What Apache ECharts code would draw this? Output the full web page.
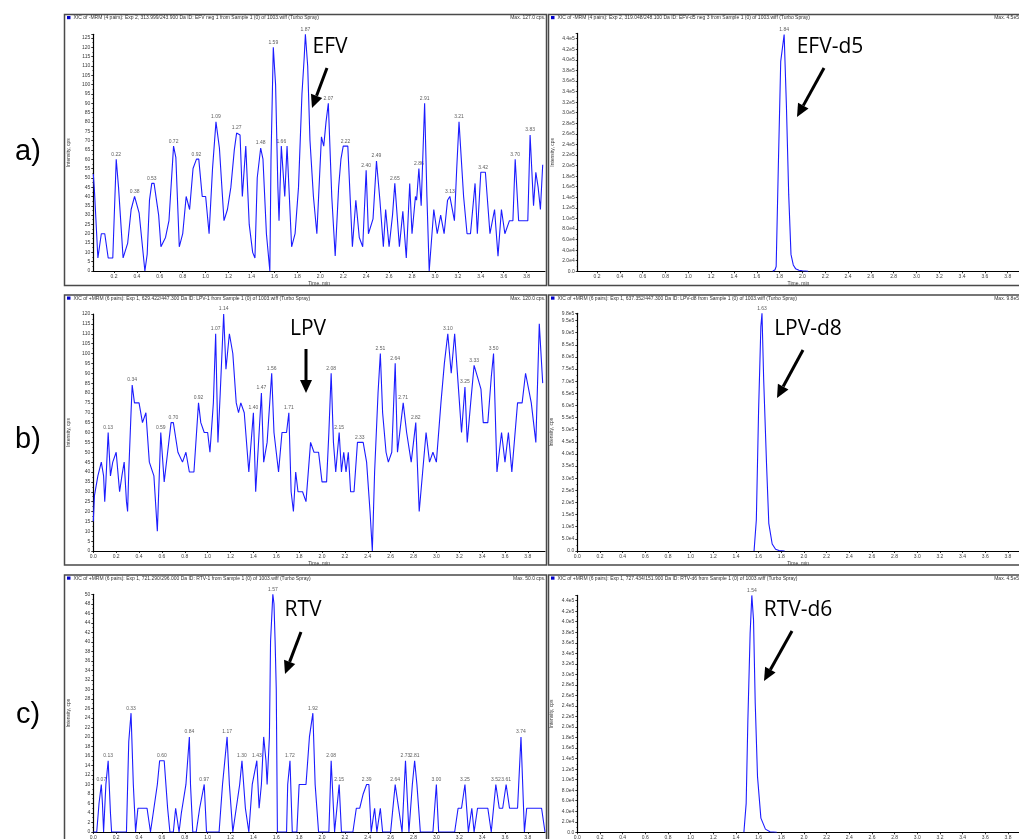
<!DOCTYPE html>
<html>
<head>
<meta charset="utf-8">
<script src="https://cdn.jsdelivr.net/npm/echarts@6/dist/echarts.min.js"></script>
<style>
  html, body { margin: 0; padding: 0; background: #fff; }
  #chart { width: 1019px; height: 839px; }
</style>
</head>
<body>
<div id="chart"></div>
<script>
// XIC traces: [time (min), intensity (cps)]
const efvTrace = [[0.02,52],[0.03,43],[0.06,7],[0.09,20],[0.12,20],[0.15,7],[0.19,7],[0.22,60],[0.24,45],[0.28,7],[0.32,15],[0.35,33],[0.38,40],[0.42,31],[0.47,0],[0.49,9],[0.51,38],[0.53,47],[0.55,47],[0.59,30],[0.61,13],[0.65,18],[0.68,27],[0.72,67],[0.74,61],[0.77,13],[0.80,20],[0.83,40],[0.86,33],[0.89,55],[0.92,60],[0.94,60],[0.97,40],[1.00,40],[1.03,20],[1.06,55],[1.09,80],[1.12,66],[1.16,27],[1.19,33],[1.22,45],[1.25,65],[1.27,74],[1.30,73],[1.32,40],[1.35,67],[1.38,25],[1.41,10],[1.43,7],[1.45,50],[1.48,66],[1.50,60],[1.53,20],[1.56,0],[1.57,60],[1.59,120],[1.61,100],[1.63,45],[1.64,27],[1.66,67],[1.69,40],[1.71,67],[1.75,13],[1.78,20],[1.81,45],[1.84,95],[1.86,115],[1.87,127],[1.89,110],[1.91,70],[1.94,40],[1.97,20],[2.01,72],[2.03,67],[2.05,80],[2.07,90],[2.10,40],[2.13,8],[2.16,45],[2.18,60],[2.20,67],[2.22,67],[2.24,67],[2.28,13],[2.31,38],[2.34,18],[2.37,13],[2.40,54],[2.42,20],[2.46,28],[2.49,59],[2.52,38],[2.55,13],[2.57,33],[2.60,13],[2.63,30],[2.65,47],[2.69,13],[2.72,32],[2.75,7],[2.78,47],[2.80,20],[2.83,40],[2.84,38],[2.86,55],[2.88,35],[2.91,90],[2.93,40],[2.95,0],[2.99,33],[3.02,20],[3.05,30],[3.08,20],[3.11,38],[3.13,40],[3.17,27],[3.19,55],[3.21,80],[3.25,40],[3.28,20],[3.31,20],[3.35,47],[3.37,20],[3.40,53],[3.42,53],[3.44,53],[3.48,20],[3.52,33],[3.55,8],[3.58,33],[3.61,20],[3.65,27],[3.68,27],[3.70,60],[3.73,27],[3.78,27],[3.81,27],[3.83,73],[3.86,35],[3.88,53],[3.90,45],[3.92,33],[3.94,57]];
const efvPeaks = [0.22,0.38,0.53,0.72,0.92,1.09,1.27,1.48,1.59,1.66,1.87,2.07,2.22,2.40,2.49,2.65,2.86,2.91,3.13,3.21,3.42,3.70,3.83];

const lpvTrace = [[0.00,15],[0.01,28],[0.04,38],[0.07,45],[0.09,38],[0.10,25],[0.11,35],[0.13,60],[0.15,38],[0.17,45],[0.20,50],[0.23,30],[0.25,38],[0.27,45],[0.29,25],[0.30,20],[0.31,40],[0.33,70],[0.34,84],[0.36,75],[0.40,75],[0.43,65],[0.46,70],[0.49,45],[0.53,38],[0.56,10],[0.59,60],[0.62,35],[0.65,50],[0.68,65],[0.70,65],[0.74,50],[0.78,45],[0.81,50],[0.84,40],[0.88,40],[0.92,75],[0.94,65],[0.97,60],[1.00,60],[1.02,50],[1.05,75],[1.07,110],[1.09,55],[1.11,80],[1.14,120],[1.16,92],[1.19,110],[1.22,100],[1.25,75],[1.27,70],[1.29,75],[1.32,70],[1.36,40],[1.40,70],[1.42,30],[1.47,80],[1.49,45],[1.52,55],[1.56,90],[1.58,60],[1.62,40],[1.65,60],[1.69,60],[1.71,70],[1.73,30],[1.75,20],[1.77,40],[1.79,30],[1.83,30],[1.86,25],[1.90,55],[1.93,50],[1.97,50],[2.00,35],[2.04,35],[2.06,60],[2.08,90],[2.10,55],[2.12,40],[2.15,60],[2.17,40],[2.19,50],[2.21,40],[2.23,50],[2.25,30],[2.28,30],[2.31,55],[2.33,55],[2.36,55],[2.39,45],[2.42,20],[2.44,0],[2.46,40],[2.49,80],[2.51,100],[2.53,70],[2.56,50],[2.58,45],[2.61,50],[2.64,95],[2.66,50],[2.69,65],[2.71,75],[2.74,60],[2.78,45],[2.80,55],[2.82,65],[2.85,20],[2.88,40],[2.91,60],[2.94,45],[2.97,50],[3.00,45],[3.04,75],[3.07,95],[3.10,110],[3.13,90],[3.16,110],[3.19,85],[3.22,60],[3.25,83],[3.27,55],[3.30,75],[3.33,94],[3.36,88],[3.39,82],[3.41,65],[3.45,65],[3.48,88],[3.50,100],[3.53,40],[3.57,60],[3.60,45],[3.63,60],[3.66,40],[3.71,75],[3.75,75],[3.78,90],[3.83,75],[3.87,55],[3.90,115],[3.93,85]];
const lpvPeaks = [0.13,0.34,0.59,0.70,0.92,1.07,1.14,1.40,1.47,1.56,1.71,2.08,2.15,2.33,2.51,2.64,2.71,2.82,3.10,3.25,3.33,3.50];

const rtvTrace = [[0.00,0],[0.03,0],[0.05,6],[0.07,10],[0.08,6],[0.09,0],[0.11,10],[0.13,15],[0.15,4],[0.16,0],[0.29,0],[0.31,19],[0.33,25],[0.35,10],[0.37,0],[0.39,5],[0.47,5],[0.50,0],[0.53,5],[0.56,10],[0.58,15],[0.60,15],[0.62,15],[0.65,5],[0.67,0],[0.70,0],[0.72,5],[0.75,0],[0.77,4],[0.81,10],[0.84,20],[0.85,10],[0.87,0],[0.90,0],[0.93,5],[0.97,10],[0.99,0],[1.10,0],[1.13,10],[1.15,15],[1.17,20],[1.19,10],[1.22,0],[1.25,5],[1.28,10],[1.30,15],[1.33,5],[1.36,0],[1.39,10],[1.43,15],[1.45,5],[1.47,10],[1.49,20],[1.51,15],[1.52,10],[1.54,20],[1.55,40],[1.57,50],[1.58,48],[1.59,40],[1.60,30],[1.61,0],[1.69,0],[1.70,10],[1.72,15],[1.74,0],[1.78,0],[1.80,10],[1.86,10],[1.89,20],[1.92,25],[1.94,10],[1.97,0],[2.06,0],[2.08,15],[2.10,5],[2.11,0],[2.13,5],[2.15,10],[2.17,0],[2.27,0],[2.30,5],[2.33,5],[2.36,8],[2.39,10],[2.41,10],[2.43,0],[2.46,5],[2.48,0],[2.51,5],[2.53,0],[2.60,0],[2.64,10],[2.67,5],[2.70,0],[2.73,15],[2.74,15],[2.76,0],[2.79,10],[2.81,15],[2.83,10],[2.86,0],[2.97,0],[3.00,10],[3.02,0],[3.16,0],[3.19,5],[3.22,5],[3.25,10],[3.28,0],[3.31,5],[3.33,0],[3.36,5],[3.45,5],[3.48,0],[3.52,10],[3.55,5],[3.58,5],[3.61,10],[3.64,5],[3.71,5],[3.74,20],[3.77,0],[3.79,5],[3.92,5],[3.95,0]];
const rtvPeaks = [0.07,0.13,0.33,0.60,0.84,0.97,1.17,1.30,1.43,1.57,1.72,1.92,2.08,2.15,2.39,2.64,2.73,2.81,3.00,3.25,3.52,3.61,3.74];

const efvD5Trace = [[1.74,0],[1.76,3000],[1.77,9000],[1.79,208000],[1.81,397000],[1.84,448000],[1.86,312000],[1.88,145000],[1.90,32000],[1.92,12000],[1.94,5000],[1.97,2000],[2.00,1000],[2.05,0]];
const efvD5Peaks = [1.84];
const lpvD8Trace = [[1.56,0],[1.58,128000],[1.60,580000],[1.62,925000],[1.63,980000],[1.645,705000],[1.67,360000],[1.69,114000],[1.72,29000],[1.75,7000],[1.78,2000],[1.83,0]];
const lpvD8Peaks = [1.63];
const rtvD6Trace = [[1.47,0],[1.49,55000],[1.505,213000],[1.525,378000],[1.54,450000],[1.555,403000],[1.57,245000],[1.59,106000],[1.62,27000],[1.66,6000],[1.70,1000],[1.76,0]];
const rtvD6Peaks = [1.54];

// Axis tick values
const timeTicks = [0.0,0.2,0.4,0.6,0.8,1.0,1.2,1.4,1.6,1.8,2.0,2.2,2.4,2.6,2.8,3.0,3.2,3.4,3.6,3.8];

// Panel header texts
const headers = [
  ['XIC of -MRM (4 pairs): Exp 2, 313.999/243.900 Da ID: EFV neg 1 from Sample 1 (0) of 1003.wiff (Turbo Spray)', 'Max. 127.0 cps.'],
  ['XIC of -MRM (4 pairs): Exp 2, 319.048/248.100 Da ID: EFV-d5 neg 3 from Sample 1 (0) of 1003.wiff (Turbo Spray)', 'Max. 4.5e5 cps.'],
  ['XIC of +MRM (6 pairs): Exp 1, 629.422/447.300 Da ID: LPV-1 from Sample 1 (0) of 1003.wiff (Turbo Spray)', 'Max. 120.0 cps.'],
  ['XIC of +MRM (6 pairs): Exp 1, 637.352/447.300 Da ID: LPV-d8 from Sample 1 (0) of 1003.wiff (Turbo Spray)', 'Max. 9.8e5 cps.'],
  ['XIC of +MRM (6 pairs): Exp 1, 721.290/296.000 Da ID: RTV-1 from Sample 1 (0) of 1003.wiff (Turbo Spray)', 'Max. 50.0 cps.'],
  ['XIC of +MRM (6 pairs): Exp 1, 727.434/151.900 Da ID: RTV-d6 from Sample 1 (0) of 1003.wiff (Turbo Spray)', 'Max. 4.5e5 cps.']
];
const rowLabels = ['a)', 'b)', 'c)'];
const compoundNames = ['EFV', 'EFV-d5', 'LPV', 'LPV-d8', 'RTV', 'RTV-d6'];

// Layout of the six plot areas and their frames
const panels = [
  { trace: efvTrace,   peaks: efvPeaks,   grid: {left: 93.3,  top: 34.3,  width: 451.7, height: 236.7}, xMin: 0.02, xMax: 3.96, yMax: 127,    yStep: 5,     sci: false, showMax: false },
  { trace: efvD5Trace, peaks: efvD5Peaks, grid: {left: 577.7, top: 33.4,  width: 441.4, height: 237.9}, xMin: 0.03, xMax: 3.9,  yMax: 450000, yStep: 20000, sci: true,  showMax: false },
  { trace: lpvTrace,   peaks: lpvPeaks,   grid: {left: 93.3,  top: 314,   width: 451.7, height: 237},   xMin: 0,    xMax: 3.95, yMax: 120,    yStep: 5,     sci: false, showMax: true },
  { trace: lpvD8Trace, peaks: lpvD8Peaks, grid: {left: 577.3, top: 313.3, width: 441.9, height: 237.7}, xMin: 0,    xMax: 3.9,  yMax: 980000, yStep: 50000, sci: true,  showMax: true },
  { trace: rtvTrace,   peaks: rtvPeaks,   grid: {left: 93.3,  top: 594.3, width: 451.7, height: 237.7}, xMin: 0,    xMax: 3.95, yMax: 50,     yStep: 2,     sci: false, showMax: true },
  { trace: rtvD6Trace, peaks: rtvD6Peaks, grid: {left: 577.3, top: 595.4, width: 442,   height: 236.9}, xMin: 0,    xMax: 3.9,  yMax: 450000, yStep: 20000, sci: true,  showMax: false }
];
const frames = [
  {x: 64.5, y: 14.5, w: 482, h: 271}, {x: 548.5, y: 14.5, w: 480, h: 271},
  {x: 64.5, y: 295, w: 482, h: 270},  {x: 548.5, y: 295, w: 480, h: 270},
  {x: 64.5, y: 575, w: 482, h: 275},  {x: 548.5, y: 575, w: 480, h: 275}
];
const annotations = [
  {text: {x: 330, y: 47}, arrow: [327, 68, 312, 108]},
  {text: {x: 830, y: 47}, arrow: [824, 68, 797, 117]},
  {text: {x: 308, y: 329}, arrow: [306, 349, 306, 393]},
  {text: {x: 808, y: 329}, arrow: [803, 350, 777, 398]},
  {text: {x: 303, y: 610}, arrow: [301, 632, 285, 674]},
  {text: {x: 798, y: 610}, arrow: [792, 631, 764, 681]}
];
const rowLabelY = [152, 440, 715];

const TRACE_BLUE = '#1c1cff';
const TICK_TEXT = '#3a3a3a';

function sciLabel(v) {
  if (v === 0) return '0.0';
  return v.toExponential(1).replace('e+', 'e');
}

function arrowShapes(x1, y1, x2, y2) {
  const a = Math.atan2(y2 - y1, x2 - x1), L = 13, W = 6;
  const bx = x2 - L * Math.cos(a), by = y2 - L * Math.sin(a);
  const px = -Math.sin(a) * W, py = Math.cos(a) * W;
  return [
    {type: 'line', silent: true, shape: {x1, y1, x2: bx, y2: by}, style: {stroke: '#000', lineWidth: 3}},
    {type: 'polygon', silent: true, shape: {points: [[x2, y2], [bx + px, by + py], [bx - px, by - py]]}, style: {fill: '#000'}}
  ];
}

const grids = [], xAxes = [], yAxes = [], series = [], graphics = [];

panels.forEach((p, i) => {
  grids.push(Object.assign({outerBoundsMode: 'none', containLabel: false}, p.grid));
  const ticks = timeTicks.filter(t => t >= p.xMin - 1e-9 && t <= p.xMax + 1e-9);
  xAxes.push({
    type: 'value', gridIndex: i, min: p.xMin, max: p.xMax,
    axisLine: {onZero: false, lineStyle: {color: '#000', width: 1}},
    axisTick: {show: true, length: 2, customValues: ticks, lineStyle: {color: '#000', width: 0.8}},
    axisLabel: {customValues: ticks, formatter: v => v.toFixed(1), fontSize: 5, color: TICK_TEXT, margin: 3, fontFamily: 'Liberation Sans'},
    splitLine: {show: false},
    name: 'Time, min', nameLocation: 'middle', nameGap: 10,
    nameTextStyle: {fontSize: 5, color: TICK_TEXT, fontFamily: 'Liberation Sans'}
  });
  yAxes.push({
    type: 'value', gridIndex: i, min: 0, max: p.yMax, interval: p.yStep,
    axisLine: {show: true, lineStyle: {color: '#000', width: 1.2}},
    axisTick: {show: true, length: 2, lineStyle: {color: '#000', width: 0.8}},
    minorTick: {show: true, splitNumber: 2, length: 1, lineStyle: {color: '#000', width: 0.6}},
    axisLabel: {
      fontSize: 5, color: TICK_TEXT, margin: 3, fontFamily: 'Liberation Sans',
      showMaxLabel: p.showMax,
      formatter: p.sci ? sciLabel : (v => String(Math.round(v)))
    },
    splitLine: {show: false},
    name: 'Intensity, cps', nameLocation: 'middle', nameRotate: 90, nameGap: p.sci ? 23 : 22,
    nameTextStyle: {fontSize: 5, color: TICK_TEXT, fontFamily: 'Liberation Sans'}
  });
  series.push({
    type: 'line', xAxisIndex: i, yAxisIndex: i, data: p.trace,
    showSymbol: false, symbol: 'none', animation: false, clip: true,
    lineStyle: {color: TRACE_BLUE, width: 1.1}
  });
  // retention-time labels sit on the trace points of each picked peak
  const peakPoints = p.peaks
    .map(t => p.trace.find(pt => Math.abs(pt[0] - t) < 1e-9))
    .filter(Boolean);
  series.push({
    type: 'scatter', xAxisIndex: i, yAxisIndex: i, data: peakPoints,
    symbol: 'circle', symbolSize: 1, animation: false, silent: true,
    itemStyle: {color: 'rgba(0,0,0,0)'},
    label: {
      show: true, position: 'top', distance: 2, fontSize: 5, color: '#333',
      fontFamily: 'Liberation Sans',
      formatter: d => d.value[0].toFixed(2)
    }
  });

  // panel frame, header and annotation
  const f = frames[i];
  graphics.push({type: 'rect', silent: true, shape: {x: f.x, y: f.y, width: f.w, height: f.h},
    style: {fill: 'none', stroke: '#4a4a4a', lineWidth: 1.5}});
  graphics.push({type: 'rect', silent: true, shape: {x: f.x + 2.5, y: f.y + 1.5, width: 3.5, height: 3.2},
    style: {fill: '#0000cc'}});
  graphics.push({type: 'text', silent: true, x: f.x + 9, y: f.y + 3.2,
    style: {text: headers[i][0], fontSize: 5, fill: '#333', fontFamily: 'Liberation Sans', textVerticalAlign: 'middle'}});
  graphics.push({type: 'text', silent: true, x: f.x + 481, y: f.y + 3.2,
    style: {text: headers[i][1], fontSize: 5, fill: '#333', fontFamily: 'Liberation Sans', textAlign: 'right', textVerticalAlign: 'middle'}});
  const an = annotations[i];
  graphics.push({type: 'text', silent: true, x: an.text.x, y: an.text.y,
    style: {text: compoundNames[i], fontSize: 21, fill: '#000', fontFamily: 'Open Sans', textAlign: 'center', textVerticalAlign: 'middle'}});
  graphics.push(...arrowShapes(...an.arrow));
});

rowLabels.forEach((t, r) => {
  graphics.push({type: 'text', silent: true, x: 28, y: rowLabelY[r],
    style: {text: t, fontSize: 29, fill: '#000', fontFamily: 'Liberation Sans', textAlign: 'center', textVerticalAlign: 'middle'}});
});

const chart = echarts.init(document.getElementById('chart'), null, {renderer: 'canvas'});
chart.setOption({
  backgroundColor: '#fff',
  animation: false,
  grid: grids,
  xAxis: xAxes,
  yAxis: yAxes,
  series: series,
  graphic: {elements: graphics}
});
</script>
</body>
</html>
